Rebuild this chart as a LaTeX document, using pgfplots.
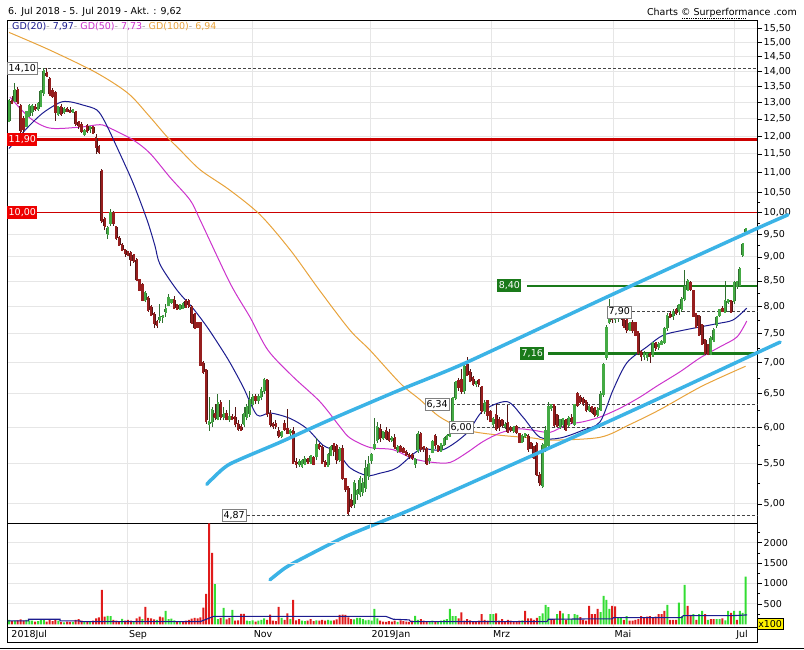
\documentclass[border=0pt]{standalone}
\usepackage{fontspec}
\setmainfont{DejaVu Sans}
\usepackage{pgfplots}
\pgfplotsset{compat=1.18}
\usepackage{pgfplotstable}
\newcommand\fs{\fontsize{9.5bp}{11bp}\selectfont}
\definecolor{gridc}{HTML}{E6E6E6}
\definecolor{upf}{HTML}{44AA44}
\definecolor{upd}{HTML}{2F6F2F}
\definecolor{dnf}{HTML}{961E1E}
\definecolor{dnd}{HTML}{551515}
\definecolor{vred}{HTML}{E01B1B}
\definecolor{vgreen}{HTML}{33DD33}
\definecolor{gdb}{HTML}{1C1C8F}
\definecolor{gdm}{HTML}{CC33CC}
\definecolor{gdo}{HTML}{E8A33C}
\definecolor{chan}{HTML}{3BB3E6}
\definecolor{lred}{HTML}{CC0000}
\definecolor{bred}{HTML}{EE0000}
\definecolor{lgreen}{HTML}{1A7A1A}
\definecolor{dashc}{HTML}{444444}
\definecolor{sepgray}{HTML}{A0A0A0}

\pgfplotstableread{
x o h l c
0 12.45 13.10 12.40 13.05
1 13.05 13.20 12.95 13.00
2 13.05 13.60 13.00 13.40
3 13.40 13.50 12.95 13.00
4 12.90 12.95 12.10 12.15
5 12.50 12.60 12.10 12.20
6 12.30 12.75 12.25 12.70
7 12.60 12.95 12.55 12.90
8 12.70 12.95 12.60 12.90
9 12.85 12.95 12.75 12.80
10 12.80 13.00 12.75 12.95
11 12.90 13.40 12.85 13.35
12 13.30 14.10 13.20 14.00
13 13.95 14.10 13.80 13.85
14 13.75 13.80 13.20 13.25
15 13.35 13.45 13.15 13.20
16 13.30 13.35 12.45 12.70
17 12.65 12.90 12.60 12.85
18 12.85 12.95 12.60 12.65
19 12.70 12.85 12.65 12.80
20 12.80 12.85 12.70 12.75
21 12.75 12.85 12.70 12.72
22 12.72 12.80 12.68 12.78
23 12.70 12.75 12.30 12.35
24 12.40 12.45 12.20 12.30
25 12.33 12.40 12.10 12.15
26 12.05 12.20 12.00 12.15
27 12.30 12.35 12.10 12.15
28 12.20 12.30 12.10 12.25
29 12.25 12.30 12.05 12.10
30 11.95 12.05 11.50 11.70
31 11.70 11.75 11.50 11.55
32 11.05 11.10 9.75 9.80
33 9.85 9.90 9.60 9.70
34 9.50 9.70 9.40 9.65
35 9.75 10.10 9.70 10.00
36 10.00 10.05 9.70 9.75
37 9.66 9.70 9.38 9.41
38 9.41 9.45 9.24 9.26
39 9.26 9.30 9.12 9.15
40 9.15 9.18 9.00 9.09
41 9.11 9.14 9.02 9.05
42 9.09 9.12 8.80 8.94
43 9.04 9.06 8.88 8.92
44 8.94 8.97 8.50 8.52
45 8.52 8.55 8.30 8.32
46 8.42 8.45 8.10 8.12
47 8.12 8.30 8.08 8.26
48 8.16 8.20 7.90 7.93
49 7.99 8.02 7.82 7.84
50 7.86 7.90 7.60 7.69
51 7.71 7.74 7.60 7.65
52 7.75 8.05 7.70 7.80
53 7.80 7.85 7.70 7.82
54 7.90 8.05 7.80 7.95
55 8.03 8.25 8.00 8.16
56 8.08 8.15 8.05 8.12
57 8.12 8.20 7.95 7.97
58 8.02 8.05 7.94 7.96
59 7.96 8.05 7.94 8.02
60 7.98 8.08 7.95 8.04
61 8.10 8.15 7.98 8.00
62 8.10 8.14 7.98 8.02
63 7.99 8.02 7.68 7.70
64 7.86 7.88 7.58 7.61
65 7.70 7.72 7.60 7.62
66 7.70 7.72 6.95 6.97
67 7.00 7.02 6.82 6.85
68 6.88 6.90 6.05 6.10
69 6.05 6.45 5.95 6.08
70 6.08 6.30 6.00 6.25
71 6.20 6.35 6.10 6.15
72 6.12 6.50 6.10 6.35
73 6.35 6.40 6.10 6.15
74 6.15 6.30 6.10 6.20
75 6.20 6.25 6.10 6.12
76 6.12 6.40 6.08 6.15
77 6.15 6.20 6.10 6.12
78 6.15 6.30 6.00 6.05
79 6.05 6.10 5.95 5.98
80 6.00 6.05 5.95 5.97
81 6.05 6.30 6.00 6.20
82 6.15 6.35 6.10 6.30
83 6.20 6.55 6.15 6.40
84 6.35 6.50 6.30 6.45
85 6.45 6.50 6.35 6.40
86 6.40 6.50 6.35 6.45
87 6.45 6.60 6.40 6.55
88 6.55 6.75 6.50 6.72
89 6.72 6.73 6.15 6.20
90 6.20 6.25 6.00 6.05
91 6.05 6.08 5.98 6.02
92 6.05 6.10 5.98 6.02
93 5.95 6.00 5.85 5.88
94 5.88 5.95 5.85 5.93
95 6.05 6.10 5.95 5.98
96 5.98 6.27 5.90 5.92
97 5.92 5.98 5.85 5.95
98 5.95 6.00 5.50 5.52
99 5.52 5.58 5.45 5.50
100 5.50 5.56 5.46 5.53
101 5.48 5.56 5.45 5.54
102 5.50 5.60 5.48 5.57
103 5.56 5.58 5.50 5.52
104 5.52 5.62 5.50 5.60
105 5.58 5.60 5.48 5.50
106 5.60 5.85 5.55 5.75
107 5.75 5.78 5.68 5.72
108 5.72 5.75 5.50 5.52
109 5.52 5.55 5.46 5.48
110 5.48 5.65 5.46 5.62
111 5.62 5.75 5.60 5.72
112 5.76 5.78 5.60 5.68
113 5.74 5.77 5.50 5.55
114 5.55 5.72 5.52 5.70
115 5.70 5.75 5.30 5.32
116 5.30 5.32 5.15 5.18
117 5.20 5.22 4.87 4.90
118 5.05 5.12 4.95 4.98
119 5.00 5.30 4.95 5.25
120 5.12 5.18 5.05 5.15
121 5.12 5.35 5.08 5.30
122 5.15 5.32 5.10 5.25
123 5.20 5.55 5.15 5.45
124 5.35 5.60 5.30 5.50
125 5.55 5.65 5.50 5.62
126 5.72 6.14 5.68 5.75
127 5.82 6.08 5.78 6.00
128 5.98 6.05 5.80 5.85
129 5.85 5.95 5.82 5.93
130 5.95 6.00 5.82 5.85
131 5.92 5.98 5.80 5.82
132 5.82 5.88 5.80 5.85
133 5.85 5.90 5.70 5.72
134 5.68 5.75 5.65 5.72
135 5.72 5.75 5.66 5.68
136 5.70 5.72 5.65 5.66
137 5.66 5.68 5.60 5.62
138 5.62 5.64 5.56 5.60
139 5.62 5.65 5.55 5.58
140 5.50 5.58 5.45 5.56
141 5.68 5.95 5.65 5.90
142 5.90 5.93 5.66 5.70
143 5.72 5.74 5.66 5.70
144 5.70 5.72 5.48 5.50
145 5.55 5.62 5.50 5.57
146 5.66 5.82 5.64 5.80
147 5.88 5.90 5.70 5.76
148 5.74 5.76 5.66 5.68
149 5.68 5.78 5.66 5.76
150 5.76 5.86 5.74 5.84
151 5.84 5.90 5.82 5.88
152 5.88 5.92 5.86 5.90
153 6.00 6.45 5.98 6.44
154 6.44 6.70 6.40 6.68
155 6.70 6.75 6.55 6.60
156 6.72 6.90 6.50 6.55
157 6.55 7.00 6.50 6.95
158 6.98 7.10 6.78 6.80
159 6.85 6.90 6.68 6.70
160 6.74 6.78 6.62 6.65
161 6.66 6.70 6.60 6.68
162 6.72 6.74 6.60 6.65
163 6.60 6.62 6.20 6.24
164 6.24 6.40 6.20 6.36
165 6.38 6.40 6.10 6.18
166 6.22 6.25 6.08 6.10
167 6.05 6.15 6.00 6.12
168 6.18 6.35 5.95 5.98
169 6.10 6.15 5.95 6.00
170 6.10 6.12 6.00 6.03
171 6.02 6.08 5.98 6.04
172 6.06 6.33 5.92 5.94
173 5.99 6.02 5.93 5.96
174 5.95 6.02 5.92 6.00
175 6.00 6.03 5.90 5.93
176 5.90 5.92 5.78 5.80
177 5.80 5.90 5.78 5.88
178 5.88 5.92 5.85 5.90
179 5.88 5.90 5.66 5.70
180 5.78 5.80 5.70 5.72
181 5.72 5.74 5.56 5.58
182 5.76 5.80 5.34 5.36
183 5.36 5.40 5.22 5.25
184 5.22 5.78 5.20 5.75
185 5.70 6.02 5.66 5.95
186 5.75 6.38 5.72 6.30
187 6.28 6.34 6.24 6.32
188 6.32 6.35 6.00 6.04
189 6.18 6.20 6.00 6.02
190 6.00 6.12 5.98 6.10
191 6.05 6.14 6.00 6.12
192 6.10 6.12 5.95 5.97
193 6.04 6.16 6.00 6.13
194 6.13 6.20 6.05 6.08
195 6.05 6.35 6.02 6.33
196 6.49 6.52 6.30 6.33
197 6.45 6.48 6.35 6.38
198 6.42 6.45 6.32 6.36
199 6.38 6.40 6.22 6.25
200 6.25 6.33 6.22 6.30
201 6.30 6.32 6.20 6.22
202 6.28 6.30 6.15 6.18
203 6.18 6.30 6.15 6.26
204 6.26 6.55 6.24 6.50
205 6.50 7.00 6.45 6.96
206 7.10 7.65 7.05 7.60
207 7.72 8.15 7.68 7.93
208 7.85 7.90 7.70 7.76
209 7.76 7.85 7.70 7.78
210 7.78 7.90 7.72 7.85
211 7.85 7.92 7.75 7.80
212 7.78 7.82 7.60 7.63
213 7.75 7.78 7.52 7.56
214 7.56 7.72 7.54 7.70
215 7.70 7.75 7.52 7.56
216 7.70 7.72 7.45 7.48
217 7.52 7.55 7.12 7.16
218 7.18 7.22 7.02 7.12
219 7.12 7.20 7.04 7.14
220 7.10 7.16 7.02 7.14
221 7.14 7.18 7.00 7.12
222 7.12 7.36 7.10 7.34
223 7.34 7.36 7.20 7.25
224 7.26 7.35 7.22 7.32
225 7.32 7.38 7.30 7.35
226 7.35 7.62 7.32 7.58
227 7.60 7.88 7.55 7.82
228 7.86 7.92 7.78 7.80
229 7.82 7.95 7.75 7.90
230 7.93 7.98 7.85 7.88
231 7.92 8.05 7.85 8.02
232 7.95 8.18 7.90 8.15
233 8.15 8.73 8.10 8.38
234 8.32 8.55 8.30 8.50
235 8.45 8.50 8.30 8.35
236 8.30 8.32 7.80 7.82
237 7.85 7.88 7.60 7.63
238 7.82 7.85 7.45 7.48
239 7.65 7.68 7.30 7.32
240 7.39 7.40 7.12 7.16
241 7.30 7.32 7.12 7.14
242 7.15 7.45 7.12 7.42
243 7.38 7.60 7.35 7.56
244 7.65 7.82 7.60 7.80
245 7.84 7.95 7.80 7.93
246 7.95 8.00 7.90 7.92
247 7.90 8.50 7.88 8.10
248 8.08 8.15 8.05 8.12
249 8.10 8.12 7.88 7.90
250 8.10 8.50 8.05 8.45
251 8.40 8.50 8.35 8.48
252 8.42 8.78 8.38 8.75
253 9.05 9.30 9.00 9.28
254 9.55 9.65 9.50 9.62
}\candles

\pgfplotstableread{
x v d
0 110 1
1 80 0
2 90 1
3 100 0
4 120 0
5 90 0
6 110 1
7 100 1
8 90 1
9 70 0
10 80 1
11 120 1
12 110 1
13 70 0
14 130 0
15 80 0
16 110 0
17 90 1
18 60 0
19 50 1
20 70 0
21 60 0
22 60 1
23 110 0
24 130 0
25 90 0
26 70 1
27 80 0
28 60 1
29 90 0
30 150 0
31 170 0
32 842 0
33 190 0
34 207 1
35 200 1
36 110 0
37 90 0
38 70 0
39 134 1
40 90 0
41 110 0
42 90 0
43 80 1
44 150 0
45 190 0
46 130 1
47 427 0
48 160 0
49 150 0
50 120 0
51 110 1
52 190 0
53 170 0
54 329 1
55 130 1
56 140 1
57 100 1
58 80 0
59 60 1
60 70 0
61 90 0
62 110 0
63 140 0
64 160 0
65 150 0
66 170 0
67 410 0
68 744 0
69 2470 0
70 1752 0
71 988 1
72 130 1
73 160 0
74 403 1
75 120 0
76 160 0
77 354 1
78 90 0
79 100 0
80 256 0
81 256 0
82 90 1
83 80 1
84 100 1
85 70 0
86 90 1
87 110 1
88 150 1
89 110 0
90 240 0
91 90 0
92 80 0
93 427 0
94 160 1
95 110 0
96 270 0
97 130 1
98 598 0
99 100 0
100 130 0
101 90 1
102 80 1
103 90 0
104 130 0
105 80 0
106 100 1
107 90 0
108 110 0
109 90 0
110 110 1
111 90 1
112 100 0
113 120 0
114 230 0
115 240 0
116 230 0
117 170 0
118 130 0
119 120 1
120 160 1
121 160 1
122 130 1
123 100 1
124 110 1
125 90 1
126 378 1
127 150 1
128 90 0
129 70 0
130 60 0
131 80 0
132 70 0
133 90 0
134 60 1
135 100 0
136 80 0
137 70 0
138 60 0
139 90 0
140 207 1
141 110 1
142 130 0
143 90 0
144 80 0
145 70 1
146 90 1
147 80 0
148 60 1
149 90 1
150 110 1
151 130 1
152 378 1
153 200 1
154 200 1
155 150 0
156 293 0
157 90 0
158 130 0
159 100 0
160 80 0
161 70 0
162 90 0
163 250 0
164 110 0
165 90 0
166 250 1
167 250 1
168 270 0
169 90 0
170 130 0
171 80 0
172 110 0
173 90 0
174 70 0
175 80 0
176 90 0
177 100 1
178 329 0
179 150 0
180 150 0
181 110 0
182 160 0
183 200 1
184 270 1
185 476 1
186 420 1
187 110 0
188 130 0
189 250 1
190 329 0
191 270 1
192 110 0
193 250 1
194 130 1
195 250 1
196 230 1
197 180 0
198 110 0
199 90 0
200 451 0
201 250 0
202 250 0
203 378 0
204 300 1
205 695 1
206 598 1
207 378 1
208 451 0
209 440 0
210 180 1
211 160 1
212 110 0
213 200 1
214 90 0
215 90 0
216 110 0
217 130 0
218 200 0
219 180 0
220 190 0
221 200 0
222 180 0
223 190 0
224 250 0
225 250 0
226 329 0
227 476 1
228 110 0
229 110 0
230 110 0
231 532 1
232 200 1
233 964 1
234 451 0
235 230 0
236 250 1
237 110 0
238 250 1
239 329 1
240 250 0
241 110 1
242 130 0
243 130 0
244 130 1
245 130 1
246 150 0
247 100 1
248 329 1
249 280 0
250 329 1
251 110 0
252 329 1
253 280 1
254 1166 1
}\volumes

\tikzset{
  wbox/.style={draw=gray, fill=white, font=\fs, inner sep=1.5bp, minimum height=12bp, text=black},
  rbox/.style={fill=bred, text=white, font=\fs, inner sep=1.5bp, minimum height=13bp},
  gbox/.style={fill=lgreen, text=white, font=\fs, inner sep=1.5bp, minimum height=13bp},
  dline/.style={dashc, line width=0.8bp, dash pattern=on 3bp off 2bp},
  mlab/.style={font=\fs, anchor=north west, inner sep=0pt, yshift=-3bp, xshift=1.3bp},
}
\pgfplotsset{
  candle/.style n args={3}{draw=none, mark=none, forget plot,
    error bars/.cd, y dir=plus, y explicit, error mark=none,
    error bar style={line width=#1, draw=#2, solid, line cap=#3}},
}

\begin{document}
\begin{tikzpicture}
\path[use as bounding box] (0,0) rectangle (804bp,650bp);

% ---------------- price panel ----------------
\begin{axis}[
  at={(7bp,127bp)}, anchor=south west, scale only axis,
  width=750bp, height=503bp,
  xmin=-0.69, xmax=257.93,
  ymode=log, log basis y=10, ymin=4.779, ymax=15.82,
  clip=false,
  axis line style={line width=0.8bp, black},
  xtick={40.9,83.9,124.5,166.4,208.3,250.3}, xticklabels={}, xmajorticks=false,
  ytick={5,5.5,6,6.5,7,7.5,8,8.5,9,9.5,10,10.5,11,11.5,12,12.5,13,13.5,14,14.5,15,15.5},
  yticklabels={{5,00},{5,50},{6,00},{6,50},{7,00},{7,50},{8,00},{8,50},{9,00},{9,50},{10,00},{10,50},{11,00},{11,50},{12,00},{12,50},{13,00},{13,50},{14,00},{14,50},{15,00},{15,50}},
  minor ytick={5.25,5.75,6.25,6.75,7.25,7.75,8.25,8.75,9.25,9.75,10.25},
  ytick pos=right, yticklabel pos=right, ytick align=outside,
  major tick length=5bp, minor tick length=3bp,
  tick style={black, line width=0.7bp},
  grid=major, major grid style={gridc, line width=1bp},
  yticklabel style={font=\fs, anchor=west, inner sep=1.5bp},
]
% horizontal reference lines
\addplot[lred, line width=2.6bp, forget plot] coordinates {(-0.69,11.9) (257.93,11.9)};
\addplot[lred, line width=1bp, forget plot] coordinates {(-0.69,10) (257.93,10)};
\addplot[dline, forget plot] coordinates {(10,14.1) (257.93,14.1)};
\addplot[dline, forget plot] coordinates {(214.8,7.9) (257.93,7.9)};
\addplot[dline, forget plot] coordinates {(151,6.34) (257.93,6.34)};
\addplot[dline, forget plot] coordinates {(159.7,6.0) (257.93,6.0)};
\addplot[dline, forget plot] coordinates {(82,4.87) (257.93,4.87)};
\addplot[lgreen, line width=1.5bp, forget plot] coordinates {(178.6,8.4) (257.93,8.4)};
\addplot[lgreen, line width=3bp, forget plot] coordinates {(185.9,7.16) (257.93,7.16)};

% moving averages
\addplot[gdo, line width=1bp, smooth, tension=0.5] coordinates {
(0,15.36) (14,14.73) (30,13.96) (41,13.29) (48,12.62) (54.5,11.98) (59,11.61) (66,11.07)
(76,10.56) (86.6,9.95) (97,9.15) (107,8.32) (117.6,7.56) (124.5,7.21) (135,6.66) (141.7,6.41)
(148.6,6.15) (158,5.96) (169,5.89) (180.7,5.85) (186.6,5.82) (203.8,5.86) (214,6.04)
(224.5,6.26) (239,6.62) (254,6.94)};
\addplot[gdm, line width=1bp, smooth, tension=0.5] coordinates {
(0.3,13.17) (7.2,12.53) (14.1,12.23) (24.5,12.26) (31.4,12.33) (34.8,12.23) (42.8,11.89)
(48.6,11.52) (55.5,10.88) (62.4,10.31) (65.9,9.83) (76.2,8.46) (83.1,7.80) (89.3,7.21)
(97.9,6.77) (107.2,6.38) (114.1,6.01) (117.6,5.85) (124.5,5.72) (132.4,5.69) (139.3,5.57)
(146.2,5.52) (152.1,5.52) (157.9,5.65) (163.4,5.80) (169.3,5.92) (175.2,5.98) (180.7,5.96)
(186.6,5.93) (192.4,6.04) (197.9,6.08) (203.8,6.15) (210.7,6.28) (217.6,6.45) (223.4,6.62)
(231.4,6.85) (238.3,7.08) (245.2,7.27) (251,7.44) (254.4,7.73)};
\addplot[gdb, line width=1bp, smooth, tension=0.5] coordinates {
(0,11.65) (6.2,12.23) (11.7,12.68) (17.6,13.0) (21,13.02) (25.5,12.92) (30.3,12.77)
(33.1,12.41) (37.2,11.69) (42.8,10.73) (47.6,9.83) (50.3,9.25) (52.1,8.84) (57.9,8.32)
(63.4,7.97) (68.3,7.62) (72.8,7.27) (76.2,7.0) (80.7,6.61) (85.5,6.18) (90,6.21) (96.9,6.13) (102.8,5.98)
(108.3,5.75) (113.1,5.66) (117.6,5.45) (123.4,5.35) (127.9,5.38) (133.8,5.45) (141.7,5.69)
(149.7,5.69) (157.9,5.92) (163.4,6.24) (171.7,6.38) (177.2,6.15) (183.1,5.86) (190,5.85)
(197.9,5.96) (203.8,6.08) (208.3,6.56) (213.1,7.0) (220,7.27) (225.5,7.47) (232.4,7.56)
(244.1,7.68) (249.7,7.75) (254.4,7.97)};

% candles: wicks
\addplot[restrict expr to domain={\thisrow{c}-\thisrow{o}}{0:100}, candle={0.8bp}{upd}{butt}]
  table[x=x, y=l, y error plus expr=\thisrow{h}-\thisrow{l}] {\candles};
\addplot[restrict expr to domain={\thisrow{o}-\thisrow{c}}{0.000001:100}, candle={0.8bp}{dnd}{butt}]
  table[x=x, y=l, y error plus expr=\thisrow{h}-\thisrow{l}] {\candles};
% bodies up
\addplot[restrict expr to domain={\thisrow{c}-\thisrow{o}}{0:100}, candle={3.0bp}{upd}{butt}]
  table[x=x, y=o, y error plus expr=\thisrow{c}-\thisrow{o}] {\candles};
\addplot[restrict expr to domain={\thisrow{c}-\thisrow{o}}{0:100}, candle={2.2bp}{upf}{rect}]
  table[x=x, y=o, y error plus expr=\thisrow{c}-\thisrow{o}] {\candles};
% bodies down
\addplot[restrict expr to domain={\thisrow{o}-\thisrow{c}}{0.000001:100}, candle={3.0bp}{dnd}{butt}]
  table[x=x, y=c, y error plus expr=\thisrow{o}-\thisrow{c}] {\candles};
\addplot[restrict expr to domain={\thisrow{o}-\thisrow{c}}{0.000001:100}, candle={2.2bp}{dnf}{rect}]
  table[x=x, y=c, y error plus expr=\thisrow{o}-\thisrow{c}] {\candles};

% trend channel
\addplot[chan, line width=3.5bp, line cap=round, smooth, tension=0.4] coordinates {
(68.2,5.24) (70.4,5.32) (76.2,5.50) (93.4,5.79) (110.7,6.11) (134.8,6.56) (157.6,7.0)
(207.2,8.21) (255.5,9.56) (268.6,9.95)};
\addplot[chan, line width=3.5bp, line cap=round, smooth, tension=0.4] coordinates {
(90,4.175) (95,4.29) (100.3,4.38) (116.2,4.63) (134.8,4.88) (146.2,5.05) (203.8,6.03)
(231.4,6.58) (255.5,7.11) (265.9,7.35)};

% labels
\node[wbox, anchor=west] at (axis cs:-0.69,14.1) {14,10};
\node[rbox, anchor=west] at (axis cs:-0.69,11.9) {11,90};
\node[rbox, anchor=west] at (axis cs:-0.69,10) {10,00};
\node[gbox, anchor=west] at (axis cs:168.3,8.4) {8,40};
\node[gbox, anchor=west] at (axis cs:176.2,7.16) {7,16};
\node[wbox, anchor=west] at (axis cs:206.2,7.9) {7,90};
\node[wbox, anchor=west] at (axis cs:143.4,6.34) {6,34};
\node[wbox, anchor=west] at (axis cs:151.7,6.0) {6,00};
\node[wbox, anchor=west] at (axis cs:73.4,4.87) {4,87};
\end{axis}

% ---------------- volume panel ----------------
\begin{axis}[
  at={(7bp,23bp)}, anchor=south west, scale only axis,
  width=750bp, height=104bp,
  xmin=-0.69, xmax=257.93, ymin=-64, ymax=2481,
  clip=false,
  axis line style={line width=0.8bp, black},
  xtick={40.9,83.9,124.5,166.4,208.3,250.3}, xticklabels={}, xmajorticks=false,
  ytick={500,1000,1500,2000}, yticklabels={500,1000,1500,2000},
  minor ytick={250,750,1250,1750,2250},
  ytick pos=right, yticklabel pos=right, ytick align=outside,
  major tick length=5bp, minor tick length=3bp,
  tick style={black, line width=0.7bp},
  grid=major, major grid style={gridc, line width=1bp},
  yticklabel style={font=\fs, anchor=west, inner sep=1.5bp},
]
\addplot[ybar, bar width=2.0bp, bar shift=0pt, fill=vred, draw=none,
  restrict expr to domain={\thisrow{d}}{0:0}] table[x=x, y=v] {\volumes};
\addplot[ybar, bar width=2.0bp, bar shift=0pt, fill=vgreen, draw=none,
  restrict expr to domain={\thisrow{d}}{1:1}] table[x=x, y=v] {\volumes};
\addplot[gdb, line width=1.1bp, sharp plot] coordinates {
(-0.5,85) (6.7,85) (6.7,126) (17.6,126) (17.6,85) (24.5,85) (24.5,69) (66,69) (70.5,195)
(130,195) (132.5,126) (138,110) (138.5,69) (185.5,69) (186,126) (200.3,134) (208,134)
(208.5,167) (232,167) (232.5,215) (250,215) (254.5,232)};
% month labels
\node[mlab] at (axis cs:0.34,-64) {2018Jul};
\node[mlab] at (axis cs:40.9,-64) {Sep};
\node[mlab] at (axis cs:83.9,-64) {Nov};
\node[mlab] at (axis cs:124.5,-64) {2019Jan};
\node[mlab] at (axis cs:166.4,-64) {Mrz};
\node[mlab] at (axis cs:208.3,-64) {Mai};
\node[mlab] at (axis cs:250.3,-64) {Jul};
\end{axis}

% frame bits
\draw[line width=0.8bp] (7bp,23bp) -- (7bp,8bp) -- (757bp,8bp) -- (757bp,23bp);
\draw[line width=0.8bp] (0,2bp) -- (804bp,2bp);
\node[fill=yellow, draw=black, line width=0.5bp, inner sep=1bp, font=\fs,
      anchor=south west, minimum height=11bp] at (757bp,20bp) {x100};

% titles
\node[font=\fs, anchor=west, inner sep=0] at (8bp,638bp) {6. Jul 2018 - 5. Jul 2019 - Akt. : 9,62};
\node[font=\fs, anchor=east, inner sep=0] at (797bp,637bp) {Charts © Surperformance .com};
\draw[densely dotted, line width=0.8bp] (682bp,631.5bp) -- (745bp,631.5bp);
\node[font=\fs, anchor=west, inner sep=0] at (12bp,623bp) {\textcolor{gdb}{GD(20)}\textcolor{sepgray}{ - }\textcolor{gdb}{7,97}\textcolor{sepgray}{ - }\textcolor{gdm}{GD(50)}\textcolor{sepgray}{ - }\textcolor{gdm}{7,73}\textcolor{sepgray}{ - }\textcolor{gdo}{GD(100)}\textcolor{sepgray}{ - }\textcolor{gdo}{6,94}};
\end{tikzpicture}
\end{document}
